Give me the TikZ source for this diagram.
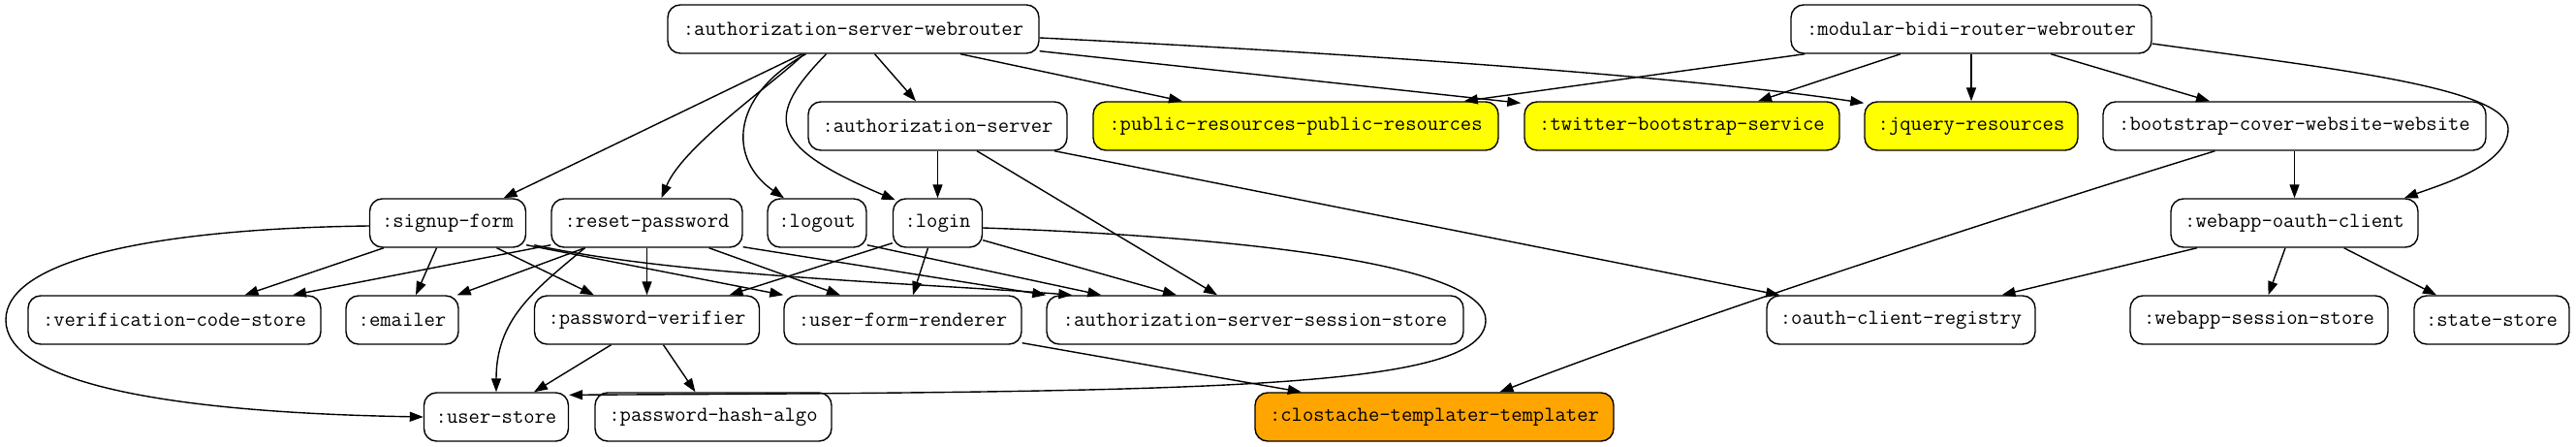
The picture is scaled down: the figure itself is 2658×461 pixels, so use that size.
\documentclass[tikz,border=0pt]{standalone}
\usepackage{fontspec}
\usetikzlibrary{arrows.meta}
\definecolor{yel}{HTML}{FFFF00}
\definecolor{org}{HTML}{FFA500}
\begin{document}
\begin{tikzpicture}[x=1bp,y=-1bp,
 box/.style={draw, line width=1.4bp, rounded corners=13bp, minimum height=50bp, inner sep=0pt,
   font=\ttfamily\fontsize{22bp}{26bp}\selectfont, fill=white},
 conn/.style={line width=1.4bp, -{Triangle[length=14bp,width=10bp]}}]
\useasboundingbox[fill=white] (0,0) rectangle (2658,461);
% row 1
\node[box,minimum width=383bp] (asw) at (880.5,30) {:authorization-server-webrouter};
\node[box,minimum width=372bp] (mbw) at (2034,30) {:modular-bidi-router-webrouter};
% row 2
\node[box,minimum width=267bp] (as) at (967.5,130) {:authorization-server};
\node[box,minimum width=418bp,fill=yel] (pub) at (1337,130) {:public-resources-public-resources};
\node[box,minimum width=325bp,fill=yel] (tw) at (1735.5,130) {:twitter-bootstrap-service};
\node[box,minimum width=220bp,fill=yel] (jq) at (2034,130) {:jquery-resources};
\node[box,minimum width=395bp] (bcw) at (2367.5,130) {:bootstrap-cover-website-website};
% row 3
\node[box,minimum width=161bp] (sf) at (462,230) {:signup-form};
\node[box,minimum width=197bp] (rp) at (667.5,230) {:reset-password};
\node[box,minimum width=102bp] (lo) at (843,230) {:logout};
\node[box,minimum width=92bp] (li) at (967.5,230) {:login};
\node[box,minimum width=255bp] (woc) at (2367.5,230) {:webapp-oauth-client};
% row 4
\node[box,minimum width=302bp] (vcs) at (180,330) {:verification-code-store};
\node[box,minimum width=116bp] (em) at (415,330) {:emailer};
\node[box,minimum width=232bp] (pv) at (667.5,330) {:password-verifier};
\node[box,minimum width=245bp] (ufr) at (931.5,330) {:user-form-renderer};
\node[box,minimum width=430bp] (asss) at (1295,330) {:authorization-server-session-store};
\node[box,minimum width=277bp] (ocr) at (1961.5,330) {:oauth-client-registry};
\node[box,minimum width=266bp] (wss) at (2331,330) {:webapp-session-store};
\node[box,minimum width=160bp] (ss) at (2571,330) {:state-store};
% row 5
\node[box,minimum width=149bp] (us) at (512,430) {:user-store};
\node[box,minimum width=244bp] (pha) at (736,430) {:password-hash-algo};
\node[box,minimum width=370bp,fill=org] (ct) at (1480,430) {:clostache-templater-templater};

% authorization-server-webrouter
\draw[conn] ([xshift=-53bp]asw.south) -- ([xshift=57.5bp]sf.north);
\draw[conn] ([xshift=-51bp]asw.south) .. controls (800,85) and (705,150) .. ([xshift=15bp]rp.north);
\draw[conn] ([xshift=-49bp]asw.south) .. controls (752,100) and (752,165) .. ([xshift=-34bp]lo.north);
\draw[conn] ([xshift=-28bp]asw.south) .. controls (790,120) and (790,150) .. ([xshift=3bp,yshift=-2bp]li.north west);
\draw[conn] ([xshift=22bp]asw.south) -- ([xshift=-22.5bp]as.north);
\draw[conn] ([xshift=110.5bp]asw.south) -- ([xshift=-117bp]pub.north);
\draw[conn] ([yshift=3bp]asw.south east) -- ([xshift=-3bp,yshift=-2bp]tw.north west);
\draw[conn] ([yshift=-9bp]asw.east) .. controls (1400,55) and (1750,80) .. ([yshift=-2bp]jq.north west);
% modular-bidi-router-webrouter
\draw[conn] ([xshift=15bp]mbw.south west) -- ([xshift=-36bp]pub.north east);
\draw[conn] ([xshift=-73bp]mbw.south) -- ([xshift=78.5bp]tw.north);
\draw[conn] (mbw.south) -- (jq.north);
\draw[conn] ([xshift=82bp]mbw.south) -- ([xshift=-87.5bp]bcw.north);
\draw[conn] ([yshift=-15bp]mbw.east) .. controls (2400,70) and (2588,90) .. (2588,133)
   .. controls (2588,170) and (2520,190) .. ([xshift=-15bp]woc.north east);
% authorization-server
\draw[conn] (as.south) -- (li.north);
\draw[conn] ([xshift=40.5bp]as.south) -- ([xshift=-39bp]asss.north);
\draw[conn] ([xshift=120.5bp]as.south) -- ([xshift=14bp]ocr.north west);
% bootstrap-cover-website
\draw[conn] (bcw.south) -- (woc.north);
\draw[conn] ([xshift=-82bp]bcw.south) .. controls (1980,250) and (1700,345) .. ([xshift=67.5bp]ct.north);
% webapp-oauth-client
\draw[conn] ([xshift=-100.5bp]woc.south) -- ([xshift=104bp]ocr.north);
\draw[conn] ([xshift=-9.5bp]woc.south) -- ([xshift=9.5bp]wss.north);
\draw[conn] ([xshift=51bp]woc.south) -- ([xshift=-57bp]ss.north);
% signup-form
\draw[conn] ([yshift=-3bp]sf.west) .. controls (150,236) and (6,270) .. (6,330)
   .. controls (6,390) and (150,425) .. (us.west);
\draw[conn] ([xshift=-66bp]sf.south) -- ([xshift=72.5bp]vcs.north);
\draw[conn] ([xshift=-11.5bp]sf.south) -- ([xshift=14bp]em.north);
\draw[conn] ([xshift=50.5bp]sf.south) -- ([xshift=-54.5bp]pv.north);
\draw[conn] ([yshift=3bp]sf.south east) -- (ufr.north west);
\draw[conn] ([xshift=8bp,yshift=3bp]sf.south east) .. controls (700,285) and (950,292) .. ([xshift=27bp]asss.north west);
% reset-password
\draw[conn] ([yshift=3bp]rp.south west) -- ([xshift=122bp]vcs.north);
\draw[conn] ([xshift=-64bp]rp.south) -- ([xshift=-2bp]em.north east);
\draw[conn] ([xshift=-64bp]rp.south) .. controls (550,300) and (512,330) .. (us.north);
\draw[conn] (rp.south) -- (pv.north);
\draw[conn] ([xshift=64bp]rp.south) -- ([xshift=-64.5bp]ufr.north);
\draw[conn] ([yshift=1bp]rp.south east) -- (asss.north west);
% logout
\draw[conn] ([yshift=3bp]lo.south east) -- ([xshift=57bp]asss.north west);
% login
\draw[conn] ([yshift=8bp]li.south east) -- ([xshift=-81bp]asss.north);
\draw[conn] ([xshift=-10bp]li.south) -- ([xshift=10.5bp]ufr.north);
\draw[conn] ([yshift=5bp]li.south west) -- ([xshift=85bp]pv.north);
\draw[conn] ([yshift=-5bp]li.east) .. controls (1300,245) and (1533,275) .. (1533,330)
   .. controls (1533,402) and (1250,404) .. ([yshift=-3bp]us.north east);
% password-verifier
\draw[conn] ([xshift=-37bp]pv.south) -- ([xshift=39bp]us.north);
\draw[conn] ([xshift=17bp]pv.south) -- ([xshift=-18.5bp]pha.north);
% user-form-renderer
\draw[conn] ([yshift=2bp]ufr.south east) -- ([xshift=48.5bp]ct.north west);
\end{tikzpicture}
\end{document}
